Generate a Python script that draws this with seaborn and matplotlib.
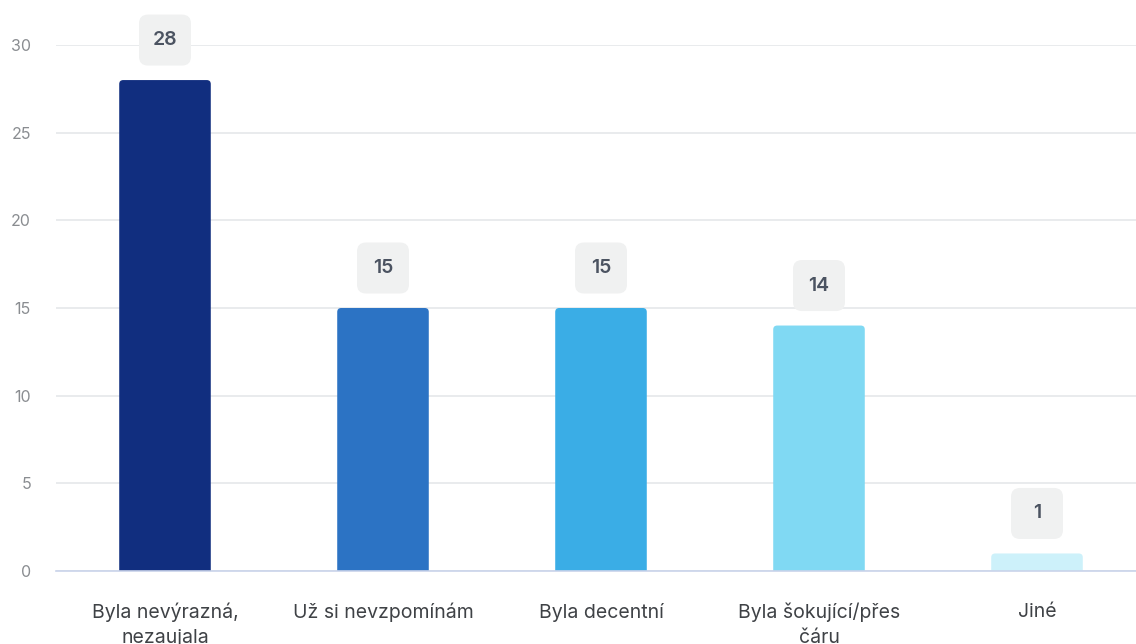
import matplotlib
matplotlib.use("Agg")
import matplotlib.pyplot as plt
import seaborn as sns
import pandas as pd
from matplotlib.patches import FancyBboxPatch

# data
categories = ["Byla nevýrazná,\nnezaujala", "Už si nevzpomínám", "Byla decentní",
              "Byla šokující/přes\nčáru", "Jiné"]
values = [28, 15, 15, 14, 1]
colors = ["#112e7f", "#2c73c4", "#3aade6", "#80d9f3", "#cdf1fa"]

sns.set_theme(style="white")
plt.rcParams["font.family"] = ["Inter", "DejaVu Sans"]

df = pd.DataFrame({"cat": categories, "val": values})

fig = plt.figure(figsize=(11.36, 6.44), dpi=100)
ax = fig.add_axes([56 / 1136, 73 / 644, 1090 / 1136, 526 / 644])

sns.barplot(data=df, x="cat", y="val", hue="cat", palette=colors, legend=False,
            width=0.42, ax=ax, saturation=1)

# replace plain bars with rounded ones
px_x = 1 / 218.0
px_y = 30 / 526.0
for p in list(ax.patches):
    x0, w, h = p.get_x(), p.get_width(), p.get_height()
    fc = p.get_facecolor()
    p.remove()
    r = FancyBboxPatch((x0, -0.5), w, h + 0.5,
                       boxstyle="round,pad=0,rounding_size=%f" % (4 * px_x),
                       mutation_aspect=px_y / px_x, fc=fc, ec="none", zorder=2)
    ax.add_patch(r)

# value boxes
bw, bh = 52 * px_x, 51 * px_y
for i, v in enumerate(values):
    cy = v + 40 * px_y
    box = FancyBboxPatch((i - bw / 2, cy - bh / 2), bw, bh,
                         boxstyle="round,pad=0,rounding_size=%f" % (9 * px_x),
                         mutation_aspect=px_y / px_x, fc="#f0f1f1", ec="none",
                         zorder=3, clip_on=False)
    ax.add_patch(box)
    ax.text(i, cy, str(v), ha="center", va="center", fontsize=14,
            fontweight="semibold", color="#4b5361", zorder=4)

ax.set_xlim(-0.5, 4.5)
ax.set_ylim(0, 30)
ax.set_yticks([0, 5, 10, 15, 20, 25, 30])
ax.yaxis.grid(True, color="#e5e7ea", linewidth=1.2)
ax.set_axisbelow(True)
for s in ["top", "right", "left"]:
    ax.spines[s].set_visible(False)
ax.spines["bottom"].set_color("#c9d3ea")
ax.spines["bottom"].set_linewidth(1.2)
ax.tick_params(axis="y", length=0, pad=18, labelsize=11.5, labelcolor="#8a8d91")
ax.tick_params(axis="x", length=0, pad=23, labelsize=14, labelcolor="#3f4246")
for t in ax.get_xticklabels():
    t.set_linespacing(1.45)
ax.set_xlabel("")
ax.set_ylabel("")

fig.savefig("out.png", dpi=100)
